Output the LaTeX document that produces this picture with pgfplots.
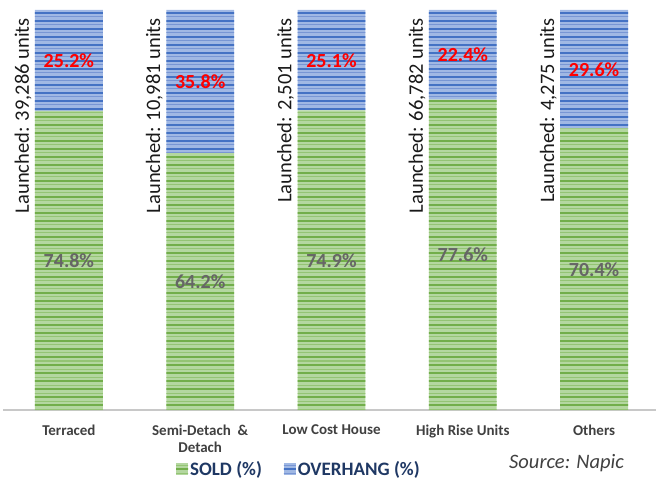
\documentclass[border=0pt]{standalone}
\usepackage{pgfplots}
\pgfplotsset{compat=1.18}
\usepackage{fontspec}
\setmainfont{Carlito}
\usetikzlibrary{patterns.meta}
\definecolor{gfill}{HTML}{B4D7A0}
\definecolor{gline}{HTML}{72AE4A}
\definecolor{gmid}{HTML}{94C474}
\definecolor{bfill}{HTML}{A0B8E4}
\definecolor{bline}{HTML}{4472C4}
\definecolor{bmid}{HTML}{7896D4}
\definecolor{navy}{HTML}{1F3864}
\definecolor{axgray}{HTML}{C8C8C8}
\definecolor{txtgray}{HTML}{404040}
\definecolor{soldgray}{HTML}{666666}
\tikzset{
  soldlab/.style={font=\fontsize{20}{24}\selectfont\bfseries, text=soldgray},
  overlab/.style={font=\fontsize{20}{24}\selectfont\bfseries, text=red},
  launch/.style={rotate=90, anchor=south east, inner sep=0pt, font=\fontsize{20.5}{24}\selectfont, text=black!90},
}
\begin{document}
\begin{tikzpicture}
\useasboundingbox (0,0) rectangle (656pt,485pt);
\begin{axis}[
  at={(3.25pt,75pt)}, anchor=south west,
  scale only axis, width=652.75pt, height=400pt,
  xmin=-0.5, xmax=4.4715, ymin=0, ymax=100,
  ybar stacked, bar width=0.517,
  axis y line=none,
  axis x line*=bottom,
  x axis line style={draw=axgray, line width=1.5pt},
  xtick={0,1,2,3,4},
  xticklabels={Terraced,{Semi-Detach \ \&\\Detach},Low Cost House,High Rise Units,Others},
  xticklabel style={font=\fontsize{15}{17}\selectfont\bfseries, text=txtgray, align=center, yshift=-11pt},
  major tick length=0pt,
  clip=false,
  legend columns=2,
  legend style={at={(0.453,-0.1475)}, anchor=center, draw=none, fill=none,
    font=\fontsize{19}{22}\selectfont\bfseries, text=navy,
    /tikz/every even column/.append style={column sep=20pt}},
  legend image code/.code={\path[#1, draw=none] (0pt,-6pt) rectangle (12pt,6pt);},
]
\addplot[fill=gfill, draw=none,
  postaction={pattern={Lines[angle=0,distance=8pt,line width=1.4pt]}, pattern color=gline},
  postaction={pattern={Lines[angle=0,distance=8pt,yshift=4pt,line width=1pt]}, pattern color=gmid}]
  coordinates {(0,74.8) (1,64.2) (2,74.9) (3,77.6) (4,70.4)};
\addlegendentry{SOLD (\%)}
\addplot[fill=bfill, draw=none,
  postaction={pattern={Lines[angle=0,distance=8pt,line width=1.4pt]}, pattern color=bline},
  postaction={pattern={Lines[angle=0,distance=8pt,yshift=4pt,line width=1pt]}, pattern color=bmid}]
  coordinates {(0,25.2) (1,35.8) (2,25.1) (3,22.4) (4,29.6)};
\addlegendentry{OVERHANG (\%)}
% label anchors: segment centres
\coordinate (s0) at (axis cs:0,37.4);
\coordinate (s1) at (axis cs:1,32.1);
\coordinate (s2) at (axis cs:2,37.45);
\coordinate (s3) at (axis cs:3,38.8);
\coordinate (s4) at (axis cs:4,35.2);
\coordinate (o0) at (axis cs:0,87.4);
\coordinate (o1) at (axis cs:1,82.1);
\coordinate (o2) at (axis cs:2,87.45);
\coordinate (o3) at (axis cs:3,88.8);
\coordinate (o4) at (axis cs:4,85.2);
\coordinate (l0) at (axis cs:-0.2835,98);
\coordinate (l1) at (axis cs:0.7165,98);
\coordinate (l2) at (axis cs:1.7165,98);
\coordinate (l3) at (axis cs:2.7165,98);
\coordinate (l4) at (axis cs:3.7165,98);
\end{axis}
\node[soldlab] at (s0) {74.8\%};
\node[soldlab] at (s1) {64.2\%};
\node[soldlab] at (s2) {74.9\%};
\node[soldlab] at (s3) {77.6\%};
\node[soldlab] at (s4) {70.4\%};
\node[overlab] at (o0) {25.2\%};
\node[overlab] at (o1) {35.8\%};
\node[overlab] at (o2) {25.1\%};
\node[overlab] at (o3) {22.4\%};
\node[overlab] at (o4) {29.6\%};
\node[launch] at (l0) {Launched: 39,286 units};
\node[launch] at (l1) {Launched: 10,981 units};
\node[launch] at (l2) {Launched: 2,501 units};
\node[launch] at (l3) {Launched: 66,782 units};
\node[launch] at (l4) {Launched: 4,275 units};
\node[anchor=west, font=\fontsize{20.5}{24}\selectfont\itshape, text=txtgray, inner sep=0pt] at (509pt,22pt) {Source: Napic};
\end{tikzpicture}
\end{document}
